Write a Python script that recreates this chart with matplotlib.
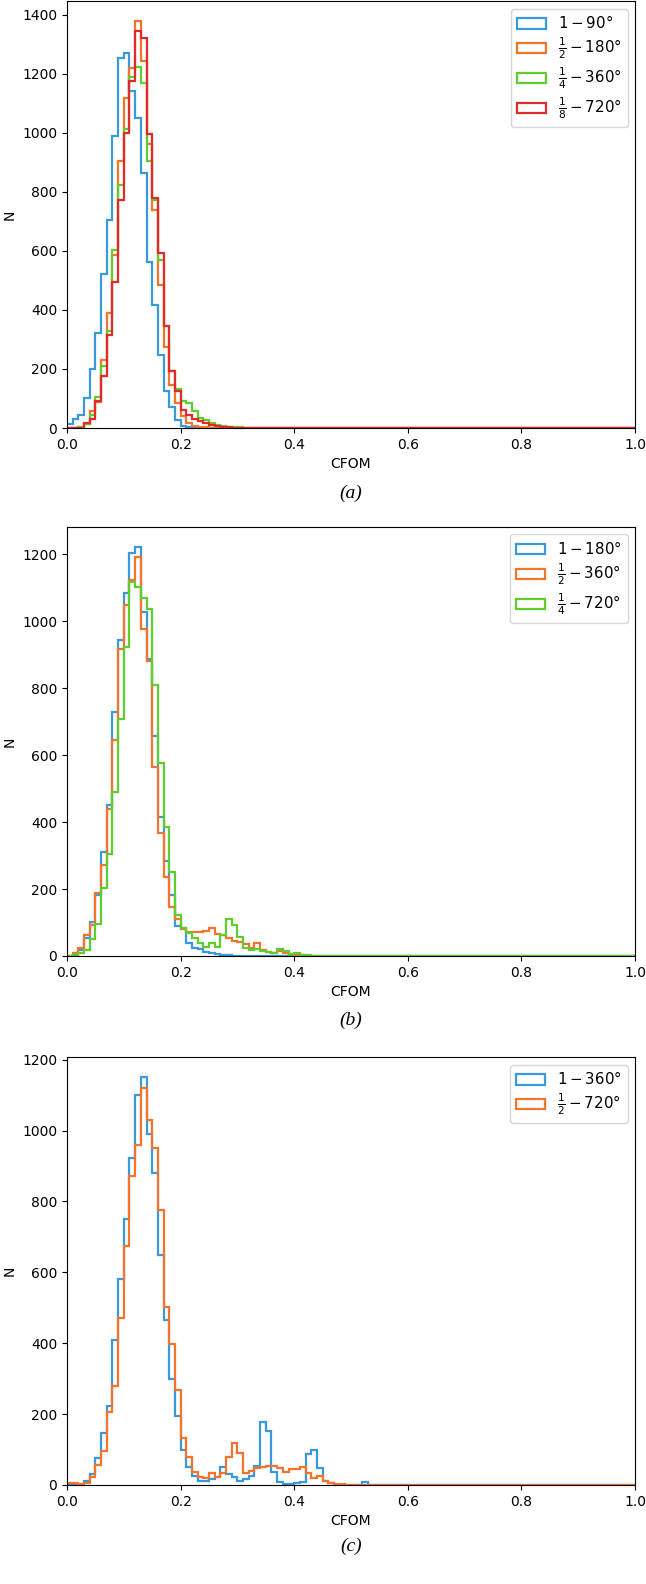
import numpy as np
import matplotlib
matplotlib.use("Agg")
import matplotlib.pyplot as plt

# CFOM histogram counts, bin width 0.01 from 0.0 (remaining bins up to 1.0 are zero)
bin_edges = np.linspace(0.0, 1.0, 101)

# (a)
counts_a_90 = [12, 30, 44, 101, 199, 321, 521, 706, 988, 1254, 1270, 1141, 1051, 864,
               563, 417, 248, 124, 71, 26, 6, 2]
counts_a_180 = [0, 0, 3, 15, 56, 87, 231, 391, 586, 905, 1119, 1220, 1378, 1245, 963,
                738, 485, 276, 146, 85, 39, 17, 8, 3, 2, 1]
counts_a_360 = [0, 0, 3, 15, 43, 105, 211, 330, 603, 823, 1014, 1189, 1222, 1170, 904,
                774, 569, 344, 192, 133, 90, 85, 56, 34, 26, 17, 11, 8, 5, 3, 2, 1]
counts_a_720 = [0, 0, 0, 17, 32, 90, 177, 315, 496, 774, 1000, 1177, 1344, 1320, 997,
                780, 592, 344, 192, 124, 62, 45, 30, 23, 17, 10, 6, 3, 2, 1]

# (b)
counts_b_180 = [1, 5, 18, 53, 103, 182, 311, 451, 730, 944, 1086, 1203, 1221, 1029, 888,
                657, 416, 284, 183, 90, 85, 38, 25, 20, 12, 8, 5, 3, 2, 1, 1, 1]
counts_b_360 = [1, 8, 25, 63, 93, 187, 272, 439, 647, 916, 1049, 1124, 1193, 978, 881,
                566, 367, 237, 145, 110, 80, 71, 72, 72, 75, 83, 65, 63, 55, 45, 42, 35,
                23, 38, 18, 12, 8, 14, 8, 5, 3, 2, 1]
counts_b_720 = [0, 2, 8, 18, 50, 95, 202, 306, 490, 707, 923, 1119, 1102, 1071, 1036,
                809, 578, 386, 252, 123, 83, 70, 53, 38, 28, 40, 28, 63, 110, 92, 58, 25,
                18, 20, 15, 13, 8, 20, 15, 6, 10, 3, 2, 1]

# (c)
counts_c_360 = [0, 0, 0, 12, 30, 75, 148, 224, 409, 580, 750, 923, 1100, 1150, 990, 881,
                648, 465, 298, 195, 100, 52, 25, 12, 12, 16, 23, 50, 31, 22, 12, 16, 25,
                55, 178, 153, 36, 9, 3, 2, 5, 9, 87, 100, 47, 12, 5, 1, 0, 0, 0, 0, 8]
counts_c_720 = [5, 5, 3, 7, 23, 56, 97, 207, 280, 470, 674, 871, 959, 1120, 1031, 952,
                777, 503, 398, 268, 134, 78, 37, 23, 19, 35, 23, 35, 80, 119, 89, 33, 40,
                47, 52, 54, 54, 47, 38, 44, 44, 52, 35, 19, 25, 12, 7, 3, 2, 1, 1, 1]

labels_a = [r"$1-90°$", r"$\frac{1}{2}-180°$", r"$\frac{1}{4}-360°$", r"$\frac{1}{8}-720°$"]
labels_b = [r"$1-180°$", r"$\frac{1}{2}-360°$", r"$\frac{1}{4}-720°$"]
labels_c = [r"$1-360°$", r"$\frac{1}{2}-720°$"]

colors = ["#3a98dc", "#f4742b", "#5fcd2d", "#e02a2c"]


def pad(counts):
    out = np.zeros(len(bin_edges) - 1)
    out[:len(counts)] = counts
    return out


fig = plt.figure(figsize=(6.46, 15.84), dpi=100)

left = 67 / 646
width = (635 - 67) / 646
H = 1584.0

panels = [
    (428, 1, [counts_a_90, counts_a_180, counts_a_360, counts_a_720], labels_a, 1400, "(a)", 493),
    (956, 527, [counts_b_180, counts_b_360, counts_b_720], labels_b, 1200, "(b)", 1020),
    (1485, 1057, [counts_c_360, counts_c_720], labels_c, 1200, "(c)", 1546),
]

centers = (bin_edges[:-1] + bin_edges[1:]) / 2

for bottom_px, top_px, series, labels, ymax_tick, caption, cap_px in panels:
    ax = fig.add_axes([left, 1 - bottom_px / H, width, (bottom_px - top_px) / H])
    for i, counts in enumerate(series):
        ax.hist(centers, bins=bin_edges, weights=pad(counts), histtype="step",
                color=colors[i], linewidth=1.6, label=labels[i])
    ax.set_xlim(0, 1)
    ax.set_xticks(np.arange(0, 1.01, 0.2))
    ax.set_yticks(np.arange(0, ymax_tick + 1, 200))
    ax.set_xlabel("CFOM")
    ax.set_ylabel("N")
    ax.legend(loc="upper right", fontsize=10.8, labelspacing=0.3, handlelength=1.9)
    fig.text(0.5 * (67 + 635) / 646, 1 - cap_px / H, caption, ha="center", va="center",
             family="Liberation Serif", style="italic", fontsize=14)

fig.savefig("out.png", dpi=100)
